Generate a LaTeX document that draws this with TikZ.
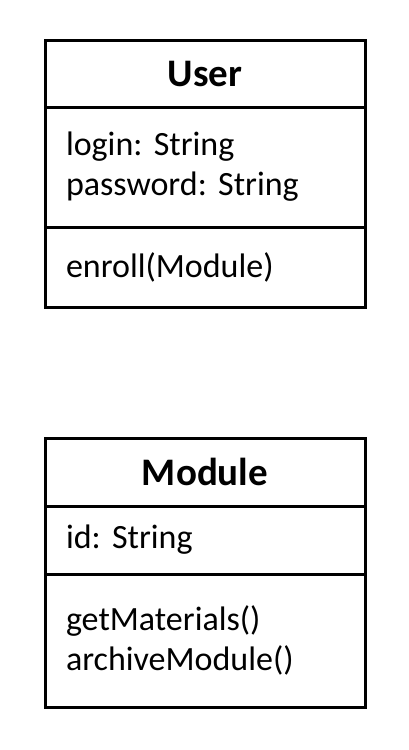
\documentclass[tikz,border=0pt]{standalone}
\usepackage{fontspec}
\setmainfont{Carlito}
\frenchspacing
\usetikzlibrary{positioning}
\tikzset{
    every node/.style={align=left,},
    part/.style={draw,rectangle,line width=3pt,minimum width=320pt,text width=278pt,
        inner xsep=21pt,inner ysep=0pt,outer sep=0pt,anchor=north west,
        font=\fontsize{34}{40}\selectfont},
    title/.style={part,align=center,font=\fontsize{39}{40}\selectfont\bfseries},
}
\begin{document}
\begin{tikzpicture}[x=1pt,y=-1pt]
        \useasboundingbox (0,0) rectangle (409,750);

        \node[title,minimum height=67pt] (user) at (45,40) {User};
        \node[part,minimum height=120pt] (userattr) at (user.south west) {login: String\\password: String};
        \node[part,minimum height=80pt] (userops) at (userattr.south west) {enroll(Module)};

        \node[title,minimum height=68pt] (module) at (45,438) {Module};
        \node[part,minimum height=68pt] (moduleattr) at (module.south west) {id: String};
        \node[part,minimum height=133pt] (moduleops) at (moduleattr.south west) {getMaterials()\\archiveModule()};
    \end{tikzpicture}
\end{document}
